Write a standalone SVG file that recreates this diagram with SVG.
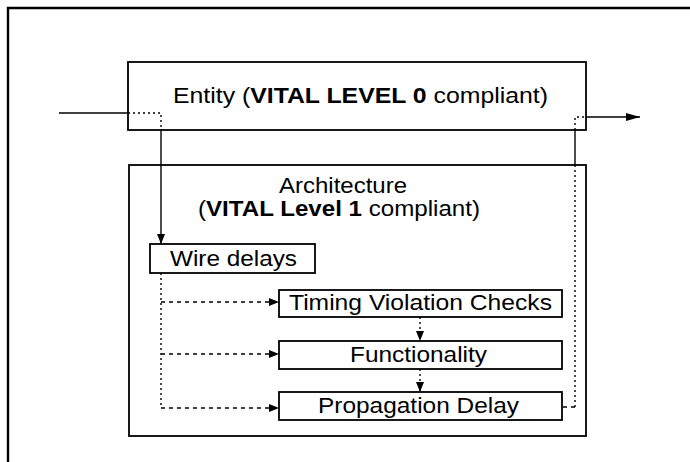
<svg xmlns="http://www.w3.org/2000/svg" width="690" height="462" viewBox="0 0 690 462">
<style>
.box{fill:#fff;stroke:#000;stroke-width:1.8}
.t{font-family:"Liberation Sans",Arial,sans-serif;font-size:22px;fill:#000}
.b{font-weight:bold}
.solid{fill:none;stroke:#000;stroke-width:1.4}
.dot{fill:none;stroke:#000;stroke-width:1.4;stroke-dasharray:2 3}
.dash{fill:none;stroke:#000;stroke-width:1.4;stroke-dasharray:4 4}
</style>
<defs>
<marker id="ah" viewBox="0 0 10 8" refX="10" refY="4" markerWidth="10" markerHeight="8" markerUnits="userSpaceOnUse" orient="auto">
<path d="M0,0 L10,4 L0,8 Z" fill="#000"/>
</marker>
<marker id="ahBig" viewBox="0 0 14 8" refX="14" refY="4" markerWidth="14" markerHeight="8" markerUnits="userSpaceOnUse" orient="auto">
<path d="M0,0 L14,4 L0,8 Z" fill="#000"/>
</marker>
</defs>
<rect width="690" height="462" fill="#fff"/>
<g id="frame">
<path d="M8,462 L8,8 L690,8" fill="none" stroke="#000" stroke-width="2.4"/>
</g>
<g id="entity">
<rect class="box" x="128" y="62" width="458" height="68"/>
<text class="t" x="173" y="103" textLength="375" lengthAdjust="spacingAndGlyphs">Entity (<tspan class="b">VITAL LEVEL 0</tspan> compliant)</text>
</g>
<g id="architecture">
<rect class="box" x="129" y="165" width="457" height="271"/>
<text class="t" x="279" y="193" textLength="128" lengthAdjust="spacingAndGlyphs">Architecture</text>
<text class="t" x="198" y="216" textLength="282" lengthAdjust="spacingAndGlyphs">(<tspan class="b">VITAL Level 1</tspan> compliant)</text>
</g>
<g id="wire-delays">
<rect class="box" x="150" y="244" width="165" height="29"/>
<text class="t" x="170" y="266" textLength="127" lengthAdjust="spacingAndGlyphs">Wire delays</text>
</g>
<g id="timing">
<rect class="box" x="279" y="290" width="283" height="27"/>
<text class="t" x="289" y="310" textLength="263" lengthAdjust="spacingAndGlyphs">Timing Violation Checks</text>
</g>
<g id="functionality">
<rect class="box" x="279" y="341" width="283" height="28"/>
<text class="t" x="350" y="362" textLength="137" lengthAdjust="spacingAndGlyphs">Functionality</text>
</g>
<g id="propagation">
<rect class="box" x="279" y="392" width="283" height="28"/>
<text class="t" x="318" y="413" textLength="201" lengthAdjust="spacingAndGlyphs">Propagation Delay</text>
</g>
<g id="connectors">
<path class="solid" d="M59,113 L128,113"/>
<path class="dot" d="M128,113 L161,113 L161,130"/>
<path class="solid" d="M161,130 L161,244" marker-end="url(#ah)"/>
<path class="dot" d="M575,130 L575,117 L586,117"/>
<path class="solid" d="M575,130 L575,165"/>
<path class="solid" d="M586,117 L640,117" marker-end="url(#ahBig)"/>
<path class="dot" d="M575,165 L575,407"/>
<path class="dash" d="M575,407 L562,407"/>
<path class="dot" d="M161,273 L161,408"/>
<path class="dash" d="M161,302 L279,302" marker-end="url(#ah)"/>
<path class="dash" d="M161,354 L279,354" marker-end="url(#ah)"/>
<path class="dash" d="M161,408 L279,408" marker-end="url(#ah)"/>
<path class="dot" d="M420,317 L420,341" marker-end="url(#ah)"/>
<path class="dot" d="M420,369 L420,392" marker-end="url(#ah)"/>
</g>
</svg>
